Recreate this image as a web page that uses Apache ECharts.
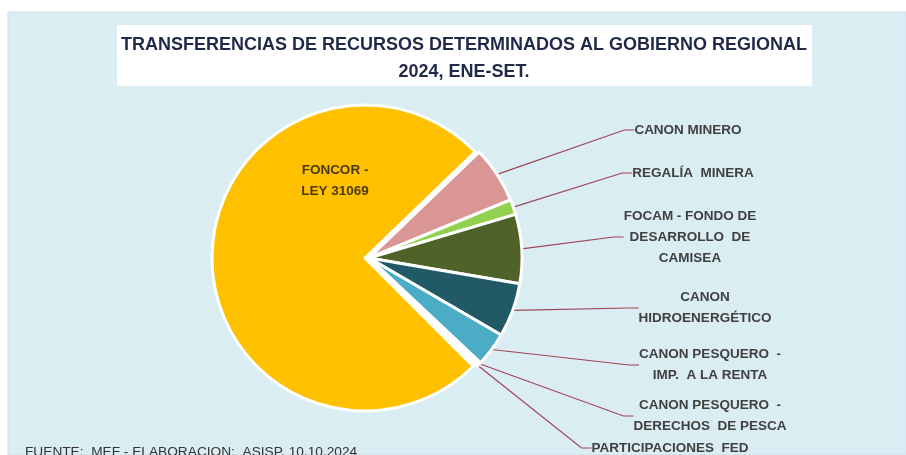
<!DOCTYPE html>
<html>
<head>
<meta charset="utf-8">
<script src="https://cdn.jsdelivr.net/npm/echarts@6/dist/echarts.min.js"></script>
<style>
  html, body { margin: 0; padding: 0; background: #fff; }
  #chart { width: 906px; height: 455px; }
</style>
</head>
<body>
<div id="chart"></div>
<script>
// categorias y participacion (%)
var categories = [
  'FONCOR -\nLEY 31069',
  'CANON MINERO',
  'REGALÍA  MINERA',
  'FOCAM - FONDO DE\nDESARROLLO  DE\nCAMISEA',
  'CANON\nHIDROENERGÉTICO',
  'CANON PESQUERO  -\nIMP.  A LA RENTA',
  'CANON PESQUERO  -\nDERECHOS  DE PESCA',
  'PARTICIPACIONES  FED'
];
var shares = [75.3, 6.0, 1.6, 7.3, 5.7, 3.6, 0.3, 0.2];
var colors = ['#FFC000', '#D99694', '#92D050', '#4F6228', '#215967', '#4BACC6', '#FFF2CC', '#F2DCDB'];

// donde va cada etiqueta (centro del texto)
var labelPos = [
  [335, 181], [688, 130], [693, 173], [690, 237],
  [705, 308], [710, 365], [710, 416], [670, 448]
];

var myChart = echarts.init(document.getElementById('chart'));

// serie 0: solo FONCOR ; serie 1: las demas, un poco desplazadas (explosion)
function buildData(part) {
  return categories.map(function (name, i) {
    var mine = part === 0 ? i === 0 : i > 0;
    return {
      name: name,
      value: shares[i],
      itemStyle: mine ? { color: colors[i] } : { color: 'rgba(0,0,0,0)', borderWidth: 0 },
      label: mine ? (i === 0 ? { color: '#4A3A05' } : {}) : { show: false },
      labelLine: { show: mine && i > 0 }
    };
  });
}

function pieSeries(part, center) {
  return {
    type: 'pie',
    center: center,
    radius: 153,
    startAngle: 315,
    clockwise: true,
    avoidLabelOverlap: false,
    silent: true,
    itemStyle: { borderColor: '#ffffff', borderWidth: 3 },
    label: {
      show: true,
      formatter: '{b}',
      fontFamily: 'Liberation Sans',
      fontSize: 13.5,
      fontWeight: 'bold',
      lineHeight: 21,
      align: 'center',
      color: '#404040'
    },
    labelLine: {
      show: true,
      length: 20,
      length2: 10,
      lineStyle: { color: '#A04456', width: 1.2 }
    },
    labelLayout: function (params) {
      var p = labelPos[params.dataIndex];
      return { x: p[0], y: p[1], align: 'center', verticalAlign: 'middle' };
    },
    emphasis: { disabled: true },
    data: buildData(part)
  };
}

myChart.setOption({
  animation: false,
  title: {
    text: 'TRANSFERENCIAS DE RECURSOS DETERMINADOS AL GOBIERNO REGIONAL\n2024, ENE-SET.',
    left: 464,
    top: 32,
    padding: 0,
    textAlign: 'center',
    textStyle: {
      fontFamily: 'Liberation Sans',
      fontSize: 18,
      fontWeight: 'bold',
      lineHeight: 27,
      color: '#1F2A48'
    }
  },
  graphic: [
    {
      type: 'rect', z: -10, silent: true,
      shape: { x: 8, y: 12, width: 898, height: 443 },
      style: { fill: '#DAEDF2', stroke: '#CBE3EA', lineWidth: 1 }
    },
    {
      type: 'rect', z: -5, silent: true,
      shape: { x: 117, y: 25, width: 695, height: 61 },
      style: { fill: '#ffffff' }
    },
    {
      type: 'text', left: 25, top: 445, silent: true,
      style: {
        text: 'FUENTE:  MEF - ELABORACION:  ASISP. 10.10.2024',
        font: '13.7px "Liberation Sans"',
        fill: '#333333'
      }
    }
  ],
  series: [pieSeries(0, [365, 258]), pieSeries(1, [369, 258])]
});
</script>
</body>
</html>
